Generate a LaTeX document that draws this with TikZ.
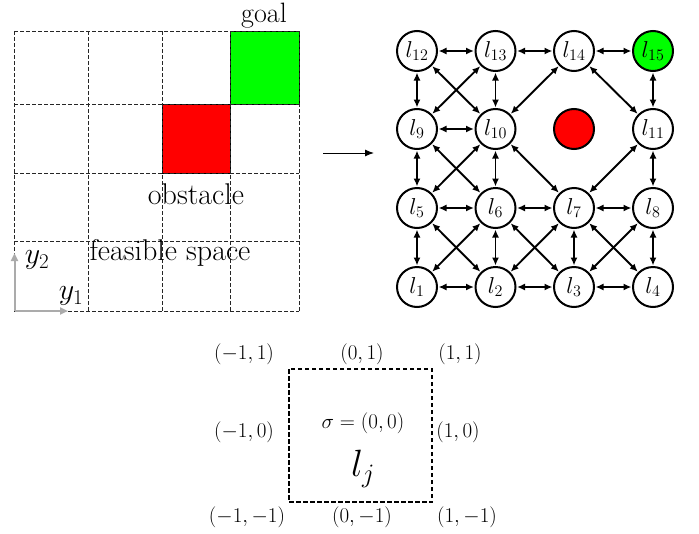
\RequirePackage{fix-cm}
\documentclass[tikz,border=0pt]{standalone}
\usetikzlibrary{arrows.meta}
\begin{document}
\begin{tikzpicture}[x=1pt,y=-1pt,
  gridline/.style={line width=0.7pt,dash pattern=on 3.5pt off 2.5pt,black!85},
  bigtext/.style={inner sep=0pt,font=\fontsize{30}{33}\selectfont},
  loc/.style={circle,draw,line width=2pt,minimum size=40pt,inner sep=0pt,fill=white,font=\fontsize{23}{26}\selectfont},
  edge/.style={line width=1.9pt,{Latex[length=8pt,width=7pt]}-{Latex[length=8pt,width=7pt]},shorten <=0.5pt,shorten >=0.5pt},
  axis/.style={line width=2pt,black!33,-{Triangle[length=8pt,width=7pt]}},
  coordlbl/.style={inner sep=0pt,font=\fontsize{21}{24}\selectfont}]
\useasboundingbox (0,0) rectangle (699,533);
% ---------- left grid ----------
\fill[green] (230,31) rectangle (299,104);
\draw[line width=0.7pt] (230,31) rectangle (299,104);
\fill[red] (162,104) rectangle (230,173);
\draw[line width=0.7pt] (162,104) rectangle (230,173);
\foreach \x in {14,88,162,230,299} \draw[gridline] (\x,31) -- (\x,311);
\foreach \y in {31,104,173,241,311} \draw[gridline] (14,\y) -- (299,\y);
\node[bigtext,font=\fontsize{28}{31}\selectfont] (goal) at (264,16) {goal};
\node[bigtext] (obst) at (196,194) {obstacle};
\node[bigtext] (feas) at (170,253) {feasible space};
\coordinate (O) at (14.5,311);
\coordinate (Ay) at (14.5,253);
\coordinate (Ax) at (68,311);
\draw[axis] (O) -- (Ay);
\draw[axis] (O) -- (Ax);
\node[bigtext] (y2) at (37,260) {$y_2$};
\node[bigtext] (y1) at (71,296) {$y_1$};
% ---------- middle arrow ----------
\coordinate (m1) at (323,153);
\coordinate (m2) at (374,153);
\draw[line width=1pt,-{Latex[length=9pt,width=7pt]}] (m1) -- (m2);
% ---------- graph ----------
\node[loc] (l1) at (417,287) {$l_1$};
\node[loc] (l2) at (495.5,287) {$l_2$};
\node[loc] (l3) at (574,287) {$l_3$};
\node[loc] (l4) at (653,287) {$l_4$};
\node[loc] (l5) at (417,208) {$l_5$};
\node[loc] (l6) at (495.5,208) {$l_6$};
\node[loc] (l7) at (574,208) {$l_7$};
\node[loc] (l8) at (653,208) {$l_8$};
\node[loc] (l9) at (417,129) {$l_9$};
\node[loc] (l10) at (495.5,129) {$l_{10}$};
\node[loc,fill=red] (obs) at (574,129) {};
\node[loc] (l11) at (653,129) {$l_{11}$};
\node[loc] (l12) at (417,51) {$l_{12}$};
\node[loc] (l13) at (495.5,51) {$l_{13}$};
\node[loc] (l14) at (574,51) {$l_{14}$};
\node[loc,fill=green] (l15) at (653,51) {$l_{15}$};
\foreach \a/\b in {l12/l13,l13/l14,l14/l15,l9/l10,l5/l6,l6/l7,l7/l8,l1/l2,l2/l3,l3/l4,
  l12/l9,l13/l10,l15/l11,l9/l5,l10/l6,l11/l8,l5/l1,l6/l2,l7/l3,l8/l4,
  l12/l10,l13/l9,l14/l10,l14/l11,l9/l6,l10/l5,l10/l7,l11/l7,l5/l2,l6/l1,l6/l3,l7/l2,l7/l4,l8/l3}
  \draw[edge] (\a) -- (\b);
% ---------- bottom cell ----------
\coordinate (c1) at (289,369);
\coordinate (c2) at (432,502);
\draw[line width=1.8pt,dash pattern=on 4.5pt off 2.5pt] (c1) rectangle (c2);
\node[coordlbl] (nw) at (244,354) {$(-1,1)$};
\node[coordlbl] (n) at (362,354) {$(0,1)$};
\node[coordlbl] (ne) at (460,354) {$(1,1)$};
\node[coordlbl] (w) at (244,432) {$(-1,0)$};
\node[coordlbl] (e) at (458,432) {$(1,0)$};
\node[coordlbl] (sw) at (247,517) {$(-1,-1)$};
\node[coordlbl] (s) at (362,517) {$(0,-1)$};
\node[coordlbl] (se) at (467,517) {$(1,-1)$};
\node[coordlbl] (sig) at (363,423) {$\sigma=(0,0)$};
\node[inner sep=0pt,font=\fontsize{38}{42}\selectfont] (lj) at (363,469) {$l_j$};
\end{tikzpicture}
\end{document}
